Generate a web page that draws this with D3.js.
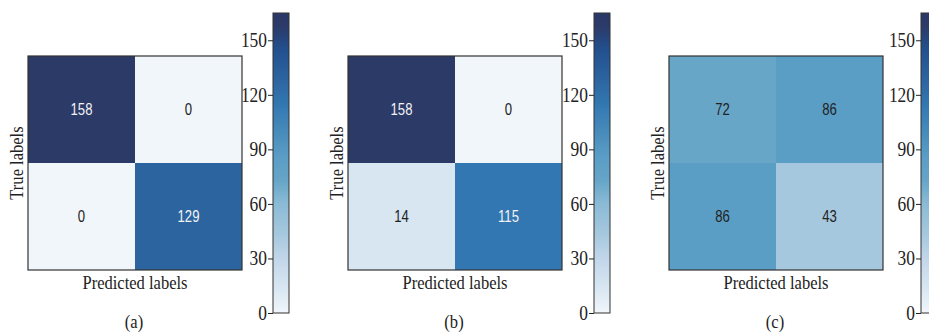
<!DOCTYPE html>
<html>
<head>
<meta charset="utf-8">
<script src="https://cdn.jsdelivr.net/npm/d3@7"></script>
<style>
  html, body { margin: 0; padding: 0; background: #ffffff; }
  svg { display: block; }
</style>
</head>
<body>
<svg id="chart" width="929" height="332"></svg>
<script>
// ---- data ----
const panelLabels = ["(a)", "(b)", "(c)"];
const matrixA = [[158, 0], [0, 129]];
const matrixB = [[158, 0], [14, 115]];
const matrixC = [[72, 86], [86, 43]];
const matrices = [matrixA, matrixB, matrixC];
const colorbarTicks = [0, 30, 60, 90, 120, 150];
const colorbarMax = 165;
const xAxisTitle = "Predicted labels";
const yAxisTitle = "True labels";

// ---- colour map (style) ----
const cmapStops = [0, 14, 30, 43, 60, 72, 86, 115, 129, 145, 158, 165];
const cmapColors = ["#f1f6fb", "#d7e6f1", "#c2d6ea", "#a6c8de", "#8bbbd6", "#68a6c8",
                    "#5a9dc5", "#3277b1", "#2c64a0", "#22508e", "#2b3a67", "#2a3868"];
const color = d3.scaleLinear().domain(cmapStops).range(cmapColors).interpolate(d3.interpolateRgb);

const svg = d3.select("#chart");
const defs = svg.append("defs");

const grad = defs.append("linearGradient").attr("id", "cbgrad")
  .attr("x1", "0").attr("y1", "1").attr("x2", "0").attr("y2", "0");
d3.range(0, 1.0001, 0.02).forEach(t => {
  grad.append("stop").attr("offset", t).attr("stop-color", color(t * colorbarMax));
});

const serif = "'Liberation Serif', 'Times New Roman', serif";
const sans = "'Liberation Sans', Arial, sans-serif";
const sx = 0.87;   // horizontal squeeze of serif text
const nx = 0.82;   // horizontal squeeze of cell numbers

const panelX = [0, 320, 641];
const cbX = [273, 594, 921];
const matLeft = 28, matTop = 56, matSize = 214;
const cbTop = 13, cbBottom = 313, cbW = 16;

matrices.forEach((m, p) => {
  const g = svg.append("g").attr("transform", `translate(${panelX[p]},0)`);
  const band = d3.scaleBand().domain([0, 1]).range([0, matSize]);
  const mg = g.append("g").attr("transform", `translate(${matLeft},${matTop})`);

  const cells = [];
  m.forEach((row, i) => row.forEach((v, j) => cells.push({ i, j, v })));

  mg.selectAll("rect.cell").data(cells).join("rect")
    .attr("class", "cell")
    .attr("x", d => band(d.j)).attr("y", d => band(d.i))
    .attr("width", band.bandwidth()).attr("height", band.bandwidth())
    .attr("fill", d => color(d.v));

  mg.selectAll("text.val").data(cells).join("text")
    .attr("class", "val")
    .attr("transform", d => `translate(${band(d.j) + band.bandwidth() / 2},${band(d.i) + band.bandwidth() / 2}) scale(${nx},1)`)
    .attr("text-anchor", "middle").attr("dominant-baseline", "central")
    .attr("font-family", sans).attr("font-size", 16)
    .attr("fill", d => d.v > 100 ? "#f2f2f2" : "#222222")
    .text(d => d.v);

  mg.append("rect").attr("width", matSize).attr("height", matSize)
    .attr("fill", "none").attr("stroke", "#333").attr("stroke-width", 1.2);

  g.append("text")
    .attr("transform", `translate(${matLeft + matSize / 2},289) scale(${sx},1)`)
    .attr("text-anchor", "middle")
    .attr("font-family", serif).attr("font-size", 19).attr("fill", "#222")
    .text(xAxisTitle);
  g.append("text")
    .attr("transform", `translate(23,${matTop + matSize / 2}) rotate(-90) scale(${sx},1)`)
    .attr("text-anchor", "middle")
    .attr("font-family", serif).attr("font-size", 19).attr("fill", "#222")
    .text(yAxisTitle);
  g.append("text")
    .attr("transform", `translate(${matLeft + matSize / 2 - 1},328) scale(${sx},1)`)
    .attr("text-anchor", "middle")
    .attr("font-family", serif).attr("font-size", 19).attr("fill", "#222")
    .text(panelLabels[p]);

  // colorbar
  const cbScale = d3.scaleLinear().domain([0, colorbarMax]).range([cbBottom, cbTop]);
  const cg = svg.append("g").attr("transform", `translate(${cbX[p]},0)`);
  cg.append("rect").attr("x", 0).attr("y", cbTop).attr("width", cbW).attr("height", cbBottom - cbTop)
    .attr("fill", "url(#cbgrad)").attr("stroke", "#333").attr("stroke-width", 1);
  const ax = cg.append("g").call(d3.axisLeft(cbScale).tickValues(colorbarTicks).tickSize(5).tickPadding(1));
  ax.select(".domain").remove();
  ax.selectAll(".tick line").attr("stroke", "#222");
  ax.selectAll(".tick text")
    .attr("x", -6 / sx)
    .attr("transform", `scale(${sx},1)`)
    .attr("font-family", serif).attr("font-size", 20).attr("fill", "#222");
});
</script>
</body>
</html>
